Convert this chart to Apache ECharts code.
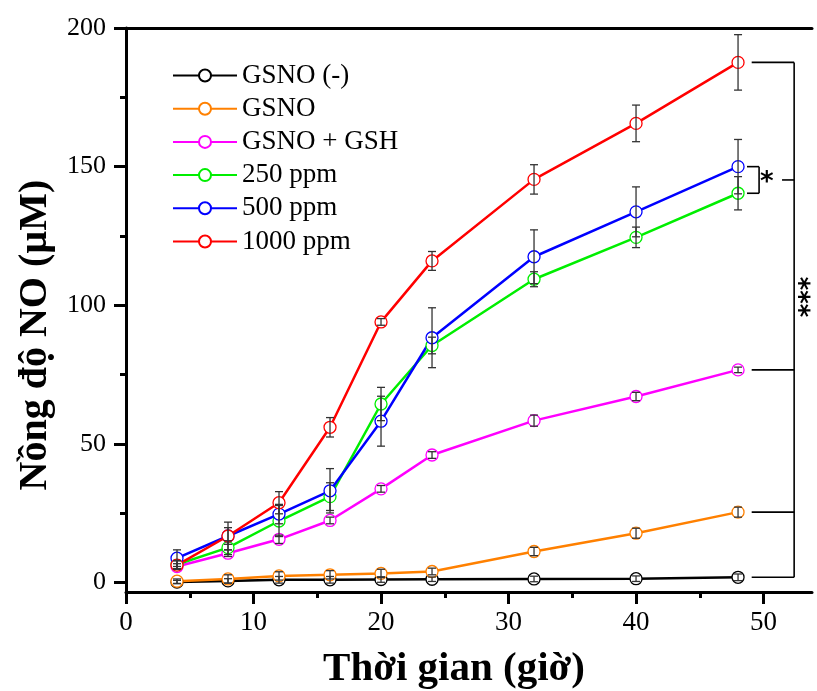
<!DOCTYPE html>
<html>
<head>
<meta charset="utf-8">
<script src="https://cdn.jsdelivr.net/npm/echarts@6/dist/echarts.min.js"></script>
<style>
  html, body { margin: 0; padding: 0; background: #fff; }
  #chart { width: 817px; height: 691px; }
</style>
</head>
<body>
<div id="chart"></div>
<script>
// Sampling times (h)
const hours = [4, 8, 12, 16, 20, 24, 32, 40, 48];

// Legend names
const seriesNames = ['GSNO (-)', 'GSNO', 'GSNO + GSH', '250 ppm', '500 ppm', '1000 ppm'];

// NO concentration (µM) and standard deviations for each group
const gsnoNeg     = [0.2, 0.6, 1.0, 1.0, 1.1, 1.2, 1.3, 1.4, 1.9];
const gsnoNegErr  = [0.6, 0.8, 1.2, 1.2, 1.0, 0.8, 1.0, 1.0, 1.2];
const gsno        = [0.5, 1.3, 2.4, 2.8, 3.3, 4.0, 11.2, 17.8, 25.4];
const gsnoErr     = [0.8, 1.5, 1.5, 1.5, 1.5, 1.2, 1.5, 1.8, 1.8];
const gsnoGsh     = [5.8, 10.6, 15.6, 22.4, 33.8, 46.0, 58.4, 67.1, 76.7];
const gsnoGshErr  = [1.0, 1.2, 1.5, 1.2, 1.2, 1.2, 2.0, 1.5, 1.0];
const ppm250      = [6.5, 12.6, 22.2, 31.0, 64.4, 85.5, 109.4, 124.5, 140.4];
const ppm250Err   = [1.5, 2.5, 5.6, 5.0, 6.0, 3.0, 2.7, 3.7, 6.0];
const ppm500      = [8.8, 16.8, 24.7, 33.1, 58.2, 88.3, 117.5, 133.7, 150.0];
const ppm500Err   = [3.0, 3.0, 3.5, 8.0, 9.0, 10.8, 9.7, 9.0, 9.8];
const ppm1000     = [6.3, 16.8, 28.8, 56.0, 94.0, 116.0, 145.4, 165.6, 187.6];
const ppm1000Err  = [1.5, 5.0, 4.0, 3.5, 1.2, 3.4, 5.3, 6.6, 10.0];

// Axis tick values
const xMajorTicks = [0, 10, 20, 30, 40, 50];
const xMinorTicks = [5, 15, 25, 35, 45];
const yMajorTicks = [0, 50, 100, 150, 200];
const yMinorTicks = [25, 75, 125, 175];

const groups = [
  { name: seriesNames[0], values: gsnoNeg,  errors: gsnoNegErr,  color: '#000000' },
  { name: seriesNames[1], values: gsno,     errors: gsnoErr,     color: '#ff8000' },
  { name: seriesNames[2], values: gsnoGsh,  errors: gsnoGshErr,  color: '#ff00ff' },
  { name: seriesNames[3], values: ppm250,   errors: ppm250Err,   color: '#00ee00' },
  { name: seriesNames[4], values: ppm500,   errors: ppm500Err,   color: '#0000ff' },
  { name: seriesNames[5], values: ppm1000,  errors: ppm1000Err,  color: '#ff0000' }
];

const SERIF = '"Liberation Serif", "DejaVu Serif", serif';
const X_MIN = 0, X_MAX = 53.8, Y_MIN = -3.4, Y_MAX = 200;

// Significance bracket placement (in data units along x)
const bracketLayout = {
  stubFrom: 49.07, spine: 52.4, starStubFrom: 51.45,
  starOpen: 48.7, starSpine: 49.65, starLabelX: 50.25,
  tripleLabelX: 53.75, tripleLabelY: 103
};

const last = a => a[a.length - 1];

function renderErrorBar(params, api) {
  const x = api.value(0), y = api.value(1), e = api.value(2);
  const top = api.coord([x, y + e]);
  const bot = api.coord([x, y - e]);
  const hw = 4;
  const style = { stroke: '#333333', lineWidth: 1.3, fill: null };
  return {
    type: 'group',
    children: [
      { type: 'line', shape: { x1: top[0], y1: top[1], x2: bot[0], y2: bot[1] }, style },
      { type: 'line', shape: { x1: top[0] - hw, y1: top[1], x2: top[0] + hw, y2: top[1] }, style },
      { type: 'line', shape: { x1: bot[0] - hw, y1: bot[1], x2: bot[0] + hw, y2: bot[1] }, style }
    ]
  };
}

function renderBrackets(params, api) {
  const L = bracketLayout;
  const style = { stroke: '#000', lineWidth: 1.6, fill: null };
  const seg = (x1, y1, x2, y2) => {
    const a = api.coord([x1, y1]), b = api.coord([x2, y2]);
    return { type: 'line', shape: { x1: a[0], y1: a[1], x2: b[0], y2: b[1] }, style };
  };
  const yTop = last(ppm1000), yMag = last(gsnoGsh), yOr = last(gsno), yBlk = last(gsnoNeg);
  const yBlue = last(ppm500), yGreen = last(ppm250);
  const yStar = (yBlue + yGreen) / 2;
  const starPos = api.coord([L.starLabelX, yStar]);
  const triplePos = api.coord([L.tripleLabelX, L.tripleLabelY]);
  return {
    type: 'group',
    children: [
      seg(L.spine, yTop, L.spine, yBlk),
      seg(L.stubFrom, yTop, L.spine, yTop),
      seg(L.stubFrom, yMag, L.spine, yMag),
      seg(L.stubFrom, yOr, L.spine, yOr),
      seg(L.stubFrom, yBlk, L.spine, yBlk),
      seg(L.starStubFrom, yStar, L.spine, yStar),
      seg(L.starOpen, yBlue, L.starSpine, yBlue),
      seg(L.starSpine, yBlue, L.starSpine, yGreen),
      seg(L.starOpen, yGreen, L.starSpine, yGreen),
      {
        type: 'text', x: starPos[0], y: starPos[1] + 3,
        style: { text: '*', font: 'bold 26px "DejaVu Sans"', align: 'center', verticalAlign: 'middle', fill: '#000' }
      },
      {
        type: 'text', x: triplePos[0], y: triplePos[1], rotation: Math.PI / 2,
        style: { text: '***', font: 'bold 26px "DejaVu Sans"', align: 'center', verticalAlign: 'middle', fill: '#000' }
      }
    ]
  };
}

const lineSeries = groups.map(g => ({
  name: g.name,
  type: 'line',
  data: hours.map((h, i) => [h, g.values[i]]),
  symbol: 'circle',
  symbolSize: 12,
  lineStyle: { color: g.color, width: 2.5 },
  itemStyle: { color: '#ffffff', borderColor: g.color, borderWidth: 1.3 },
  emphasis: { disabled: true },
  z: 2
}));

const errorSeries = groups.map(g => ({
  type: 'custom',
  renderItem: renderErrorBar,
  data: hours.map((h, i) => [h, g.values[i], g.errors[i]]),
  encode: { x: 0, y: 1 },
  silent: true,
  z: 3
}));

const bracketSeries = {
  type: 'custom',
  renderItem: renderBrackets,
  data: [[0, 0]],
  silent: true,
  z: 4
};

const axisLineStyle = { color: '#000', width: 3 };

const option = {
  animation: false,
  backgroundColor: '#fff',
  grid: { left: 126, right: 5, top: 28, bottom: 99, containLabel: false, outerBoundsMode: 'none' },
  legend: {
    data: seriesNames,
    orient: 'vertical',
    left: 172,
    top: 62,
    padding: 0,
    itemWidth: 64,
    itemHeight: 15,
    itemGap: 6.2,
    textStyle: { fontFamily: SERIF, fontSize: 27, color: '#000', lineHeight: 25 }
  },
  xAxis: [
    {
      type: 'value', min: X_MIN, max: X_MAX, position: 'bottom',
      name: 'Thời gian (giờ)', nameLocation: 'middle', nameGap: 57,
      nameTextStyle: { fontFamily: SERIF, fontSize: 41, fontWeight: 'bold', color: '#000', padding: [0, 30, 0, 0] },
      axisLine: { show: true, onZero: false, lineStyle: axisLineStyle },
      axisTick: { show: true, inside: false, length: 12, lineStyle: { color: '#000', width: 3 }, customValues: xMajorTicks },
      axisLabel: { show: true, margin: 17, fontFamily: SERIF, fontSize: 27, color: '#000', customValues: xMajorTicks },
      splitLine: { show: false }
    },
    {
      type: 'value', min: X_MIN, max: X_MAX, position: 'bottom', offset: 0,
      axisLine: { show: false, onZero: false },
      axisTick: { show: true, inside: false, length: 6, lineStyle: { color: '#000', width: 3 }, customValues: xMinorTicks },
      axisLabel: { show: false },
      splitLine: { show: false }
    },
    {
      type: 'value', min: X_MIN, max: X_MAX, position: 'top', offset: 0,
      axisLine: { show: true, onZero: false, lineStyle: axisLineStyle },
      axisTick: { show: false },
      axisLabel: { show: false },
      splitLine: { show: false }
    }
  ],
  yAxis: [
    {
      type: 'value', min: Y_MIN, max: Y_MAX, position: 'left',
      name: 'Nồng độ NO (µM)', nameLocation: 'middle', nameGap: 70,
      nameTextStyle: { fontFamily: SERIF, fontSize: 40, fontWeight: 'bold', color: '#000', padding: [0, 50, 0, 0] },
      axisLine: { show: true, onZero: false, lineStyle: axisLineStyle },
      axisTick: { show: true, inside: false, length: 12, lineStyle: { color: '#000', width: 3 }, customValues: yMajorTicks },
      axisLabel: { show: true, margin: 20, fontFamily: SERIF, fontSize: 26, color: '#000', customValues: yMajorTicks },
      splitLine: { show: false }
    },
    {
      type: 'value', min: Y_MIN, max: Y_MAX, position: 'left', offset: 0,
      axisLine: { show: false, onZero: false },
      axisTick: { show: true, inside: false, length: 6, lineStyle: { color: '#000', width: 3 }, customValues: yMinorTicks },
      axisLabel: { show: false },
      splitLine: { show: false }
    }
  ],
  series: [...lineSeries, ...errorSeries, bracketSeries]
};

const chart = echarts.init(document.getElementById('chart'), null, { renderer: 'canvas' });
chart.setOption(option);
</script>
</body>
</html>
